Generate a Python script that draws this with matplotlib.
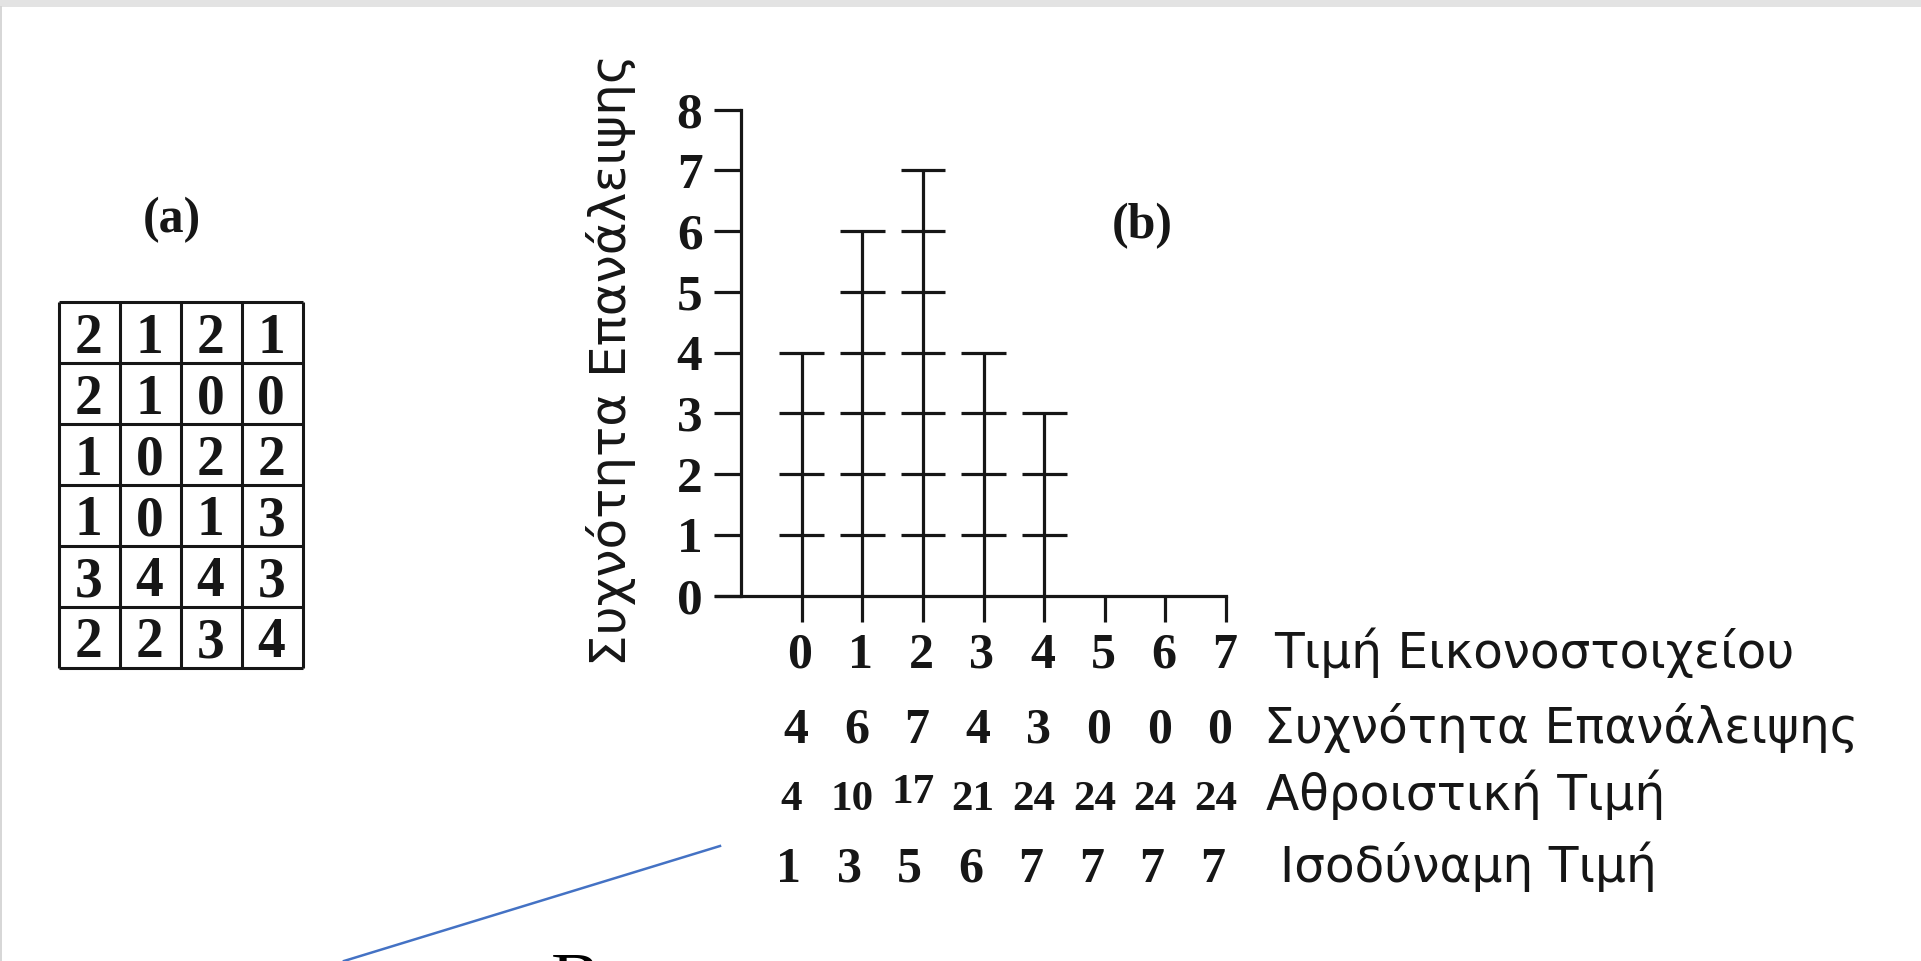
import matplotlib
matplotlib.use("Agg")
import matplotlib.pyplot as plt
from matplotlib.lines import Line2D

# ---------------- data ----------------
image_grid = [
    [2, 1, 2, 1],
    [2, 1, 0, 0],
    [1, 0, 2, 2],
    [1, 0, 1, 3],
    [3, 4, 4, 3],
    [2, 2, 3, 4],
]
pixel_values = [0, 1, 2, 3, 4, 5, 6, 7]
frequency = [4, 6, 7, 4, 3, 0, 0, 0]
cumulative = [4, 10, 17, 21, 24, 24, 24, 24]
equalized = [1, 3, 5, 6, 7, 7, 7, 7]
y_ticks = [0, 1, 2, 3, 4, 5, 6, 7, 8]

label_a = "(a)"
label_b = "(b)"
y_label = "Συχνότητα Επανάλειψης"
row_labels = ["Τιμή Εικονοστοιχείου", "Συχνότητα Επανάλειψης",
              "Αθροιστική Τιμή", "Ισοδύναμη Τιμή"]

# ---------------- layout helpers ----------------
W, H = 1921, 961
fig = plt.figure(figsize=(W / 100, H / 100), dpi=100)
fig.patch.set_facecolor("white")


def fx(x):
    return x / W


def fy(y):
    return 1 - y / H


SERIF = ["Liberation Serif", "DejaVu Serif"]
SANS = ["DejaVu Sans"]
INK = "#161616"

# top grey band and left border of the screenshot
fig.add_artist(plt.Rectangle((0, fy(7)), 1, 7 / H, transform=fig.transFigure,
                             color="#e3e3e3", lw=0, zorder=0))
fig.add_artist(Line2D([fx(1), fx(1)], [0, fy(7)], transform=fig.transFigure,
                      color="#d0d0d0", lw=1.2))

# ---------------- (a) table ----------------
n_rows, n_cols = len(image_grid), len(image_grid[0])
cell = 60.9
t_left, t_top = 59.3, 302.3
axt = fig.add_axes([fx(t_left), fy(t_top + n_rows * cell),
                    n_cols * cell / W, n_rows * cell / H])
axt.set_xlim(0, n_cols)
axt.set_ylim(n_rows, 0)
axt.axis("off")
for c in range(n_cols + 1):
    axt.vlines(c, 0, n_rows, color=INK, lw=2.2, clip_on=False)
for r in range(n_rows + 1):
    axt.hlines(r, 0, n_cols, color=INK, lw=2.2, clip_on=False)
for r, row in enumerate(image_grid):
    for c, v in enumerate(row):
        axt.text(c + 0.48, r + 0.5, str(v), ha="center", va="center_baseline",
                 fontsize=40, family=SERIF, fontweight="bold", color=INK)

fig.text(fx(171.7), fy(220), label_a, ha="center", va="center",
         fontsize=36, family=SERIF, fontweight="bold", color=INK)

# ---------------- (b) tally histogram ----------------
ux, uy = 60.6, 60.75          # pixels per data unit
x0, y0 = 801.8, 595.7         # pixel position of data (0, 0)
xl, xr, yb, yt = -4.0, 8.0, -5.0, 8.5
ax = fig.add_axes([fx(x0 + xl * ux), fy(y0 - yb * uy),
                   (xr - xl) * ux / W, (yt - yb) * uy / H])
ax.set_xlim(xl, xr)
ax.set_ylim(yb, yt)
ax.patch.set_visible(False)
for s in ("top", "right"):
    ax.spines[s].set_visible(False)
ax.spines["left"].set_position(("data", -1))
ax.spines["left"].set_bounds(0, max(y_ticks))
ax.spines["bottom"].set_position(("data", 0))
ax.spines["bottom"].set_bounds(-1.42, max(pixel_values))
for s in ("left", "bottom"):
    ax.spines[s].set_linewidth(2.3)
    ax.spines[s].set_color(INK)
ax.set_xticks([])
ax.set_yticks(y_ticks)
ax.set_yticklabels([str(t) for t in y_ticks], family=SERIF, fontsize=37,
                   fontweight="bold", color=INK)
ax.tick_params(axis="y", direction="out", length=19.4, width=2.3, pad=8.5,
               color=INK)

half = 0.37
for x, f in zip(pixel_values, frequency):
    ax.vlines(x, -0.43, max(f, 0), color=INK, lw=2.3, clip_on=False)
    for k in range(1, f + 1):
        ax.hlines(k, x - half, x + half, color=INK, lw=2.3, clip_on=False)

ax.text(-3.15, 3.89, y_label, rotation=90, ha="center", va="center",
        fontsize=36, family=SANS, color=INK)

fig.text(fx(1142), fy(226), label_b, ha="center", va="center",
         fontsize=36, family=SERIF, fontweight="bold", color=INK)

# rows of numbers under the histogram
rows = [pixel_values, frequency, cumulative, equalized]
row_base = [-1.19, -2.42, -3.52, -4.71]
row_dx = [-0.03, -0.1, -0.17, -0.22]
row_size = [36, 36, 31, 36]
label_x = [(1274 - x0) / ux, (1264 - x0) / ux, (1266 - x0) / ux, (1280 - x0) / ux]
for vals, yb_, dx, fs, lab, lx in zip(rows, row_base, row_dx, row_size,
                                      row_labels, label_x):
    for x, v in zip(pixel_values, vals):
        lift = 0.11 if (vals is cumulative and v == 17) else 0.0
        ax.text(x + dx, yb_ + lift, str(v), ha="center", va="baseline",
                fontsize=fs, family=SERIF, fontweight="bold", color=INK)
    ax.text(lx, yb_, lab, ha="left", va="baseline", fontsize=35,
            family=SANS, color=INK)

# blue connector line and cut-off letter at the bottom
connector_x = [344, 720]
connector_y = [961, 846]
fig.add_artist(Line2D([fx(v) for v in connector_x], [fy(v) for v in connector_y],
                      transform=fig.transFigure, color="#4472c4", lw=1.8))
fig.text(fx(551), fy(1004), "B", ha="left", va="baseline", fontsize=54,
         family=SERIF, color="black")

fig.savefig("out.png", dpi=100, facecolor="white")
